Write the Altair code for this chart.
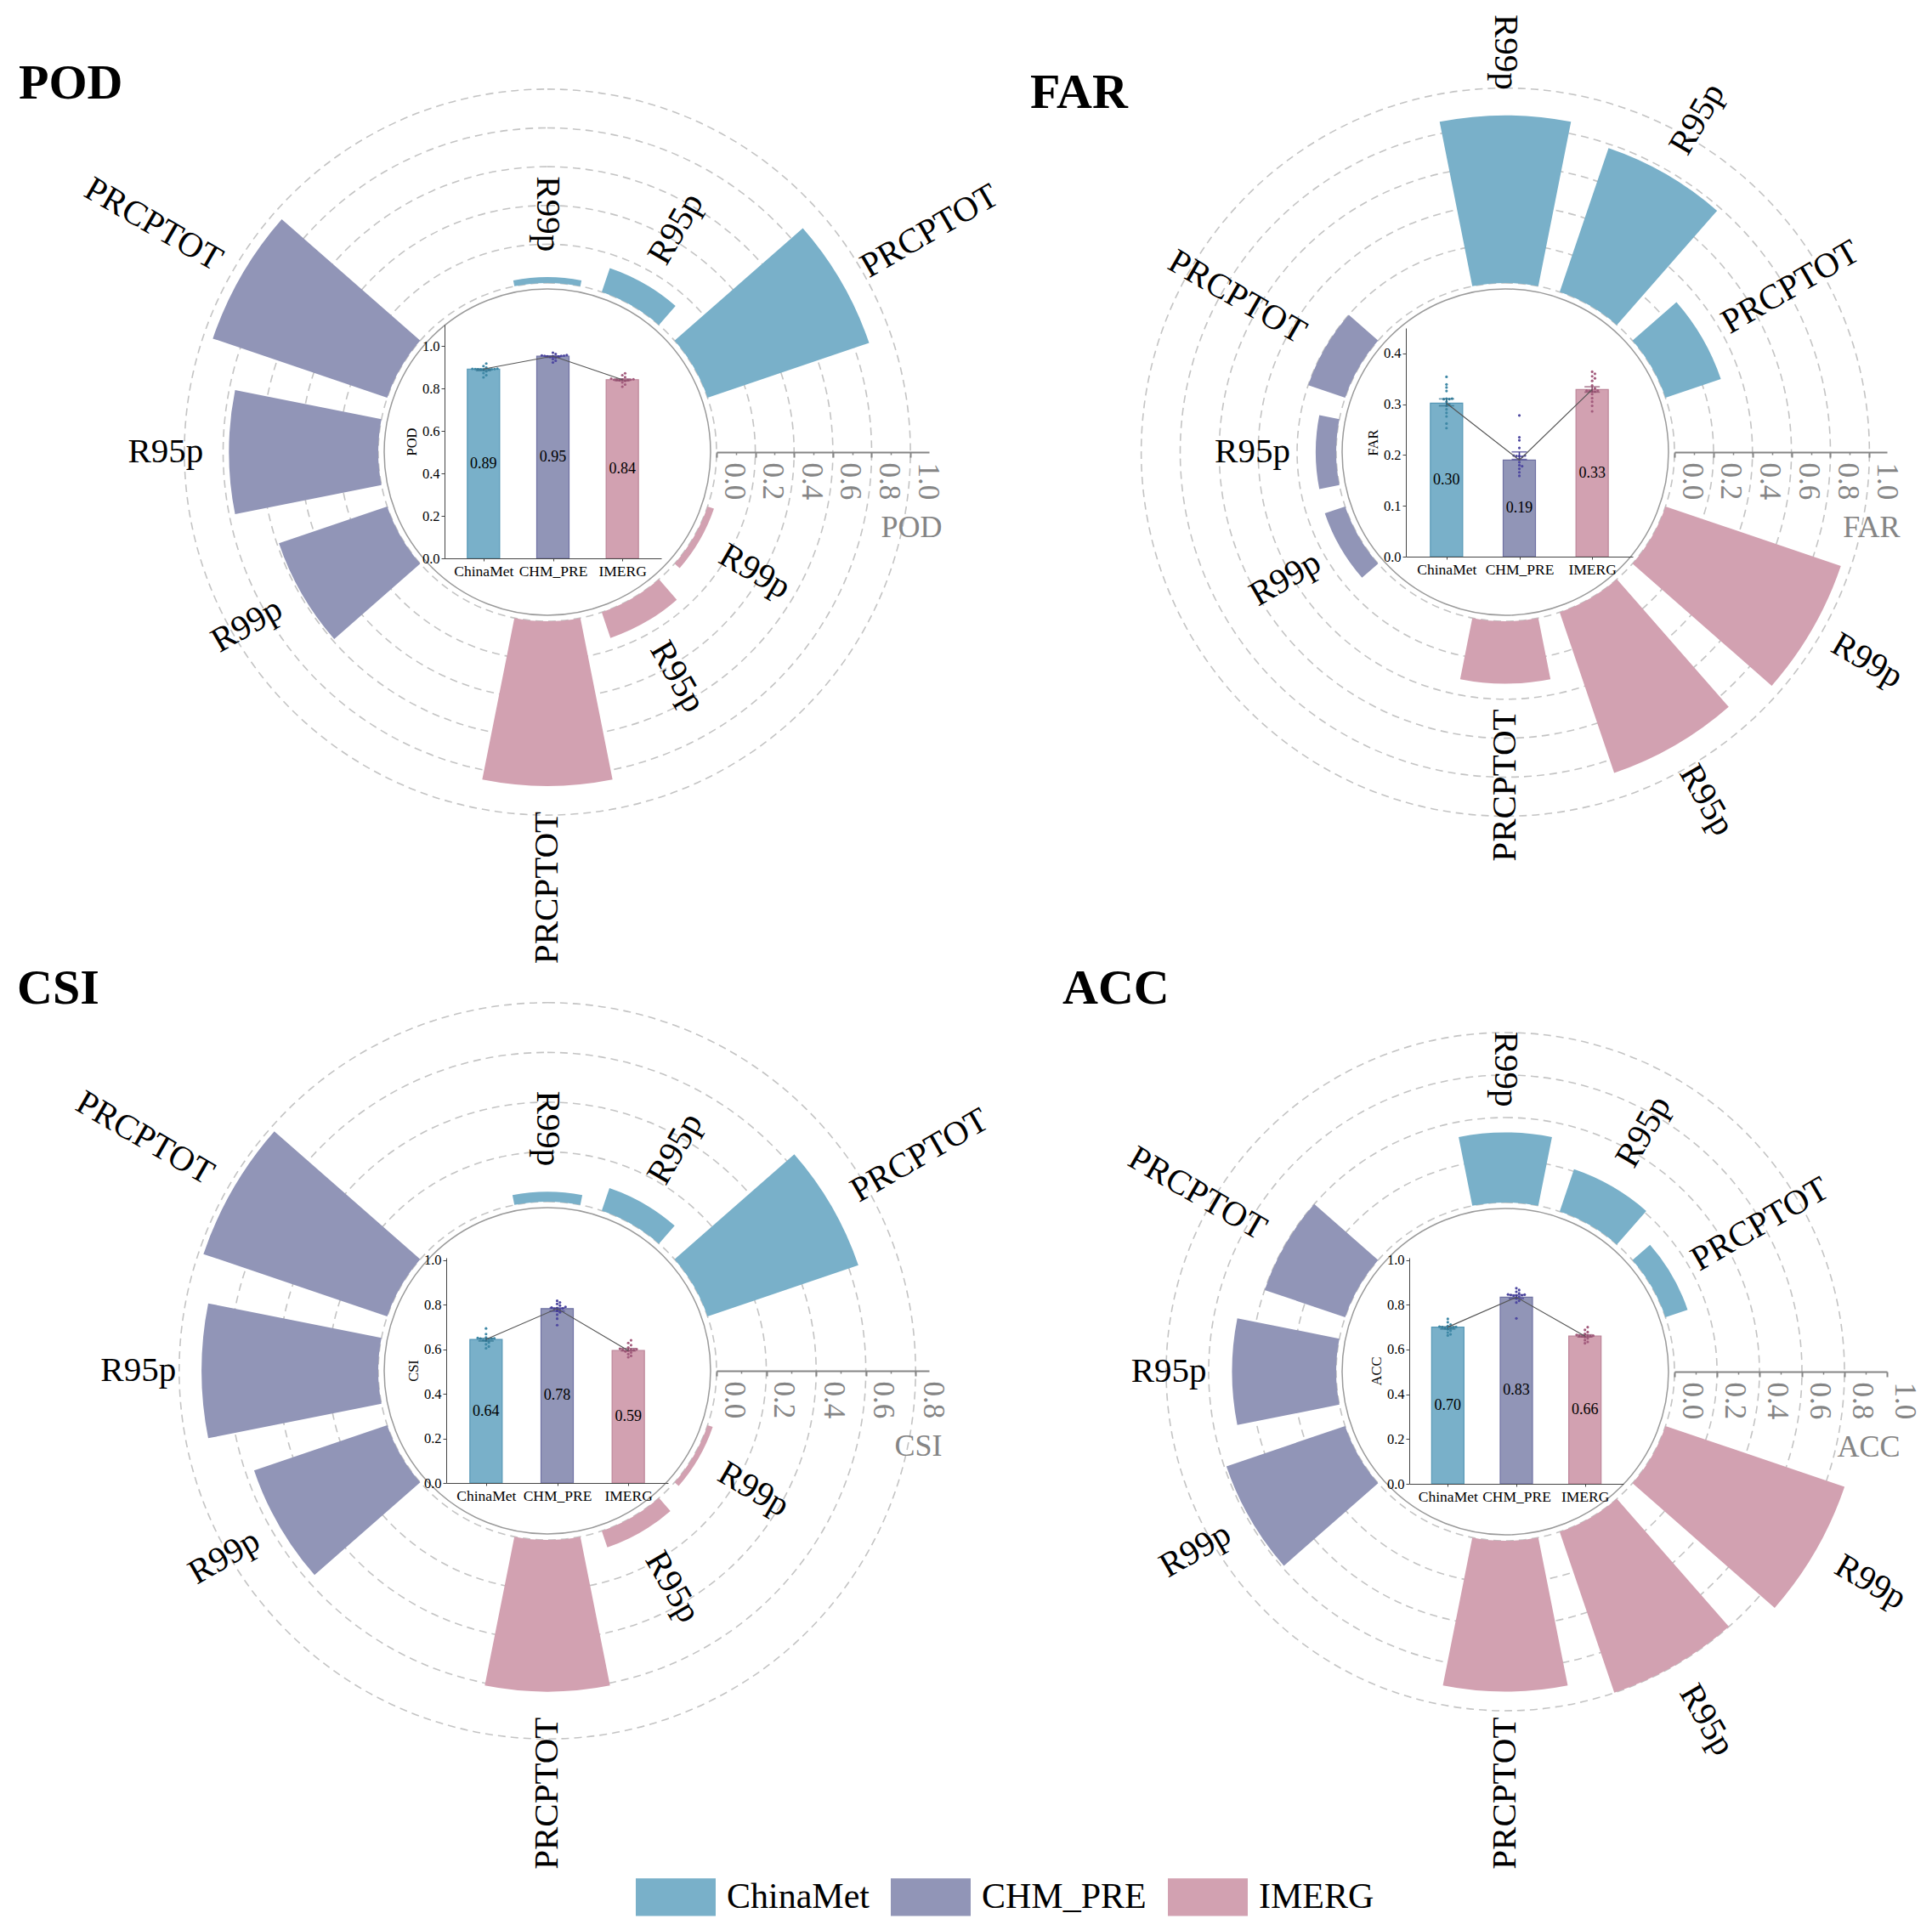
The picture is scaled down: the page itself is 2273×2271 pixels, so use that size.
import math
import pandas as pd
import altair as alt

# ---------------- data ----------------
names = ["ChinaMet", "CHM_PRE", "IMERG"]
indices = ["PRCPTOT", "R95p", "R99p"]
metrics = ["POD", "FAR", "CSI", "ACC"]

# radial bars: ChinaMet(PRCPTOT,R95p,R99p), CHM_PRE(...), IMERG(...)
pod_radial = [0.88, 0.13, 0.03, 0.95, 0.77, 0.59, 0.85, 0.14, 0.035]
far_radial = [0.30, 0.78, 0.86, 0.20, 0.105, 0.11, 0.32, 0.87, 0.95]
csi_radial = [0.64, 0.096, 0.04, 0.78, 0.71, 0.565, 0.61, 0.07, 0.022]
acc_radial = [0.11, 0.21, 0.33, 0.40, 0.49, 0.59, 0.71, 0.80, 0.89]

# inner bar chart means
pod_mean = [0.891, 0.952, 0.841]
far_mean = [0.302, 0.190, 0.329]
csi_mean = [0.644, 0.782, 0.594]
acc_mean = [0.700, 0.834, 0.660]

# inner strip points
pod_pts_chinamet = [0.917, 0.905, 0.898, 0.893, 0.892, 0.891, 0.891, 0.890, 0.890, 0.889, 0.889, 0.888, 0.880, 0.872, 0.862, 0.852]
pod_pts_chm = [0.968, 0.962, 0.957, 0.955, 0.954, 0.953, 0.953, 0.952, 0.951, 0.950, 0.948, 0.944, 0.938, 0.930, 0.922]
pod_pts_imerg = [0.871, 0.862, 0.853, 0.846, 0.843, 0.842, 0.841, 0.841, 0.840, 0.839, 0.838, 0.835, 0.828, 0.818, 0.808]

far_pts_chinamet = [0.354, 0.339, 0.333, 0.326, 0.311, 0.311, 0.310, 0.310, 0.305, 0.300, 0.297, 0.290, 0.283, 0.276, 0.262, 0.253]
far_pts_chm = [0.278, 0.235, 0.229, 0.214, 0.199, 0.199, 0.198, 0.198, 0.197, 0.192, 0.186, 0.180, 0.178, 0.173, 0.166, 0.159]
far_pts_imerg = [0.364, 0.360, 0.355, 0.351, 0.346, 0.337, 0.331, 0.327, 0.327, 0.326, 0.326, 0.325, 0.320, 0.312, 0.305, 0.297, 0.286]

csi_pts_chinamet = [0.693, 0.668, 0.652, 0.650, 0.649, 0.648, 0.647, 0.645, 0.641, 0.638, 0.630, 0.622, 0.612, 0.604]
csi_pts_chm = [0.817, 0.810, 0.803, 0.796, 0.790, 0.787, 0.785, 0.783, 0.781, 0.778, 0.772, 0.765, 0.755, 0.737, 0.708]
csi_pts_imerg = [0.640, 0.628, 0.618, 0.608, 0.602, 0.600, 0.598, 0.597, 0.596, 0.594, 0.590, 0.585, 0.578, 0.570, 0.564]

acc_pts_chinamet = [0.737, 0.722, 0.712, 0.705, 0.702, 0.701, 0.700, 0.699, 0.697, 0.695, 0.690, 0.684, 0.676, 0.668, 0.663]
acc_pts_chm = [0.874, 0.866, 0.858, 0.851, 0.846, 0.845, 0.844, 0.843, 0.842, 0.840, 0.836, 0.828, 0.818, 0.810, 0.739]
acc_pts_imerg = [0.700, 0.688, 0.678, 0.670, 0.665, 0.663, 0.662, 0.661, 0.660, 0.659, 0.656, 0.650, 0.642, 0.634, 0.628]

radial_values = {"POD": pod_radial, "FAR": far_radial, "CSI": csi_radial, "ACC": acc_radial}
mean_values = {"POD": pod_mean, "FAR": far_mean, "CSI": csi_mean, "ACC": acc_mean}
point_values = {
    "POD": [pod_pts_chinamet, pod_pts_chm, pod_pts_imerg],
    "FAR": [far_pts_chinamet, far_pts_chm, far_pts_imerg],
    "CSI": [csi_pts_chinamet, csi_pts_chm, csi_pts_imerg],
    "ACC": [acc_pts_chinamet, acc_pts_chm, acc_pts_imerg],
}

# ---------------- style / layout ----------------
SERIF = "Liberation Serif"
GRAY = "#858585"
bar_colors = ["#79b0c9", "#9195b7", "#d2a1b1"]
edge_colors = ["#5597b6", "#6f71a3", "#bd8599"]
dot_colors = ["#3f88a6", "#4e48a0", "#a35c7d"]
err_colors = ["#2e6f8a", "#3f3790", "#8a4a68"]

W, H = 2257, 2255
M = 8
R0, R1 = 199, 449
CIRCLE_R = 192
BAR_W = 38

layout = {
    "POD": dict(cx=644, cy=532, rmax=1.096, grid=[0, .2, .4, .6, .8, 1.0], ticks=[0, .2, .4, .6, .8, 1.0],
                minor=[.1, .3, .5, .7, .9], xl=-121, xr=134, y0=125, ytop=-150, ymax=1.1,
                yticks=[0, .2, .4, .6, .8, 1.0], tx=22, ty=116),
    "FAR": dict(cx=1771, cy=532, rmax=1.09, grid=[0, .2, .4, .6, .8, 1.0], ticks=[0, .2, .4, .6, .8, 1.0],
                minor=[.1, .3, .5, .7, .9], xl=-117, xr=150, y0=123, ytop=-146, ymax=0.45,
                yticks=[0, .1, .2, .3, .4], tx=1212, ty=127),
    "CSI": dict(cx=644, cy=1613, rmax=0.854, grid=[0, .2, .4, .6, .8], ticks=[0, .2, .4, .6, .8],
                minor=[.1, .3, .5, .7], xl=-119, xr=142, y0=132, ytop=-133, ymax=1.01,
                yticks=[0, .2, .4, .6, .8, 1.0], tx=20, ty=1181),
    "ACC": dict(cx=1771, cy=1614, rmax=1.0, grid=[0, .2, .4, .6, .8], ticks=[0, .2, .4, .6, .8, 1.0],
                minor=[.1, .3, .5, .7, .9], xl=-113, xr=139, y0=132, ytop=-134, ymax=1.01,
                yticks=[0, .2, .4, .6, .8, 1.0], tx=1250, ty=1181),
}

theta_scale = alt.Scale(domain=[0, 360], range=[0, 2 * math.pi], nice=False, zero=False)
radius_scale = alt.Scale(type="linear", domain=[0, 1], range=[R0, R1], nice=False, zero=False)

legend = alt.Legend(
    orient="none", legendX=740, legendY=2177, direction="horizontal", title=None,
    symbolType="M-1,-0.47L1,-0.47L1,0.47L-1,0.47Z", symbolSize=8836, symbolStrokeWidth=0,
    symbolOpacity=1, labelFont=SERIF, labelFontSize=42, labelColor="black", labelOffset=13,
    labelLimit=600, columnPadding=25, padding=0,
)
COLOR = alt.Color("ds:N", scale=alt.Scale(domain=names, range=bar_colors), legend=legend)
LABEL_EXPR = "[" + ",".join("'%s'" % n for n in names) + "][datum.value]"


def swarm(vals, ppu, d=3.4):
    order = sorted(range(len(vals)), key=lambda i: vals[i])
    placed, offs = [], [0.0] * len(vals)
    cands = [0.0] + [s * j * d for j in range(1, 25) for s in (1, -1)]
    for i in order:
        y = vals[i] * ppu
        for c in cands:
            if all((c - px) ** 2 + (y - py) ** 2 >= d * d for px, py in placed):
                break
        placed.append((c, y))
        offs[i] = c
    return offs


def rad(field):
    return alt.Radius(field, type="quantitative", scale=radius_scale, stack=None)


def panel(metric):
    L = layout[metric]
    cxv, cyv = L["cx"] - M, L["cy"] - M

    # --- radial bars table
    rows = []
    for d, ds in enumerate(names):
        for i, ix in enumerate(indices):
            v = radial_values[metric][3 * d + i]
            mpl = 30 + 120 * d + 30 * i
            th = 90 - mpl
            side = "L" if 90 <= mpl <= 270 else "R"
            tang = (180 - mpl) % 360 if side == "L" else (360 - mpl) % 360
            rows.append(dict(ds=ds, ix=ix, v=v, rn=v / L["rmax"], th=th, th1=th - 11.25,
                             th2=th + 11.25, side=side, tang=tang))
    rdf = pd.DataFrame(rows)
    gdf = pd.DataFrame({"g": L["grid"]})
    gdf["rn"] = gdf["g"] / L["rmax"]

    grid = alt.Chart(gdf).mark_arc(
        x=cxv, y=cyv, fill="transparent", stroke="#c4c4c4", strokeWidth=1.6, strokeDash=[9, 6]
    ).encode(
        theta=alt.Theta(datum=0, scale=theta_scale, stack=None),
        theta2=alt.Theta2(datum=360),
        radius=rad("rn"),
        radius2=alt.value(0),
    )

    circle = alt.Chart(pd.DataFrame({"c": [1]})).mark_arc(
        x=cxv, y=cyv, fill="transparent", stroke="#9a9a9a", strokeWidth=1.5
    ).encode(
        theta=alt.Theta(datum=0, scale=theta_scale, stack=None),
        theta2=alt.Theta2(datum=360),
        radius=alt.value(CIRCLE_R),
        radius2=alt.value(0),
    )

    bars = alt.Chart(rdf).mark_arc(x=cxv, y=cyv).encode(
        theta=alt.Theta("th1:Q", scale=theta_scale, stack=None),
        theta2=alt.Theta2("th2"),
        radius=rad("rn"),
        radius2=alt.datum(0),
        color=COLOR,
    )

    def lab(side, align):
        return alt.Chart(rdf[rdf.side == side]).mark_text(
            x=cxv, y=cyv, align=align, baseline="middle", radiusOffset=30,
            font=SERIF, fontSize=41, color="black"
        ).encode(
            theta=alt.Theta("th:Q", scale=theta_scale, stack=None),
            radius=rad("rn"),
            angle=alt.Angle("tang:Q", scale=None),
            text="ix:N",
        )

    # --- radial axis
    rscale = alt.Scale(domain=[0, L["rmax"]], range=[cxv + R0, cxv + R1], nice=False, zero=False)
    major = alt.Chart(pd.DataFrame({"t": L["ticks"]})).mark_point(opacity=0).encode(
        x=alt.X("t:Q", scale=rscale, axis=alt.Axis(
            orient="bottom", offset=cyv - H, values=L["ticks"], format=".1f",
            labelAngle=90, labelAlign="left", labelBaseline="middle", labelPadding=6,
            labelOffset=20, labelFont=SERIF, labelFontSize=35, labelColor=GRAY,
            labelFlush=False, labelOverlap=False,
            domainColor=GRAY, domainWidth=2, tickColor=GRAY, tickWidth=2, tickSize=6,
            grid=False, title=metric, titleFont=SERIF, titleFontSize=36, titleFontWeight="normal",
            titleColor=GRAY, titleX=cxv + R1 + 15, titleY=88, titleAlign="right",
            titleBaseline="middle", titleAngle=0, zindex=2,
        ))
    )
    minor = alt.Chart(pd.DataFrame({"t": L["minor"]})).mark_point(opacity=0).encode(
        x=alt.X("t:Q", scale=rscale, axis=alt.Axis(
            orient="bottom", offset=cyv - H, values=L["minor"], labels=False, domain=False,
            tickColor=GRAY, tickWidth=1.5, tickSize=3, grid=False, title=None, zindex=2,
        ))
    )

    # --- inner bar chart (x: dataset position 0,1,2)
    step = (L["xr"] - L["xl"]) / 3.0
    xs = alt.Scale(domain=[-0.5, 2.5], range=[cxv + L["xl"], cxv + L["xr"]], nice=False, zero=False)
    ys = alt.Scale(domain=[0, L["ymax"]], range=[cyv + L["y0"], cyv + L["ytop"]], nice=False, zero=False)
    AX = alt.Axis(orient="bottom", offset=(cyv + L["y0"]) - H, values=[0, 1, 2], labelExpr=LABEL_EXPR,
                  labelAngle=0, labelFont=SERIF, labelFontSize=17.5, labelColor="black",
                  labelFlush=False, labelOverlap=False,
                  domainColor="#444444", tickColor="#444444", tickSize=3, labelPadding=3,
                  title=None, grid=False, zindex=1)
    AY = alt.Axis(orient="left", offset=-(cxv + L["xl"]), values=L["yticks"], format=".1f",
                  labelFont=SERIF, labelFontSize=16.5, labelColor="black", domainColor="#444444",
                  labelFlush=False, labelOverlap=False,
                  tickColor="#444444", tickSize=4, labelPadding=2, grid=False, title=metric,
                  titleFont=SERIF, titleFontSize=16.5, titleFontWeight="normal", titleColor="black",
                  titlePadding=4, zindex=1)

    mdf = pd.DataFrame({"ds": names, "m": mean_values[metric], "xi": [0, 1, 2]})
    mdf["h"] = mdf["m"] / 2

    ppu = (L["y0"] - L["ytop"]) / L["ymax"]
    prow = []
    for d, ds in enumerate(names):
        vals = point_values[metric][d]
        offs = swarm(vals, ppu)
        for v, o in zip(vals, offs):
            prow.append(dict(ds=ds, v=v, xi=d, xp=d + o / step))
    pdf = pd.DataFrame(prow)

    ibars = alt.Chart(mdf).mark_bar(width=BAR_W, orient="vertical", strokeWidth=1.2).encode(
        x=alt.X("xi:Q", scale=xs, axis=AX), y=alt.Y("m:Q", scale=ys, axis=AY), color=COLOR,
        stroke=alt.Stroke("ds:N", scale=alt.Scale(domain=names, range=edge_colors), legend=None),
    )
    pts = alt.Chart(pdf).mark_circle(size=10, opacity=1).encode(
        x=alt.X("xp:Q", scale=xs, axis=AX),
        y=alt.Y("v:Q", scale=ys, axis=AY),
        fill=alt.Fill("ds:N", scale=alt.Scale(domain=names, range=dot_colors), legend=None),
    )
    errs = [
        alt.Chart(pdf[pdf.ds == ds]).mark_errorbar(
            extent="stderr", orient="vertical", color=err_colors[d], thickness=1.6,
            ticks={"size": 18, "color": err_colors[d]},
        ).encode(x=alt.X("xi:Q", scale=xs, axis=AX), y=alt.Y("v:Q", scale=ys, axis=AY))
        for d, ds in enumerate(names)
    ]
    line = alt.Chart(mdf).mark_line(color="#555555", strokeWidth=1.2).encode(
        x=alt.X("xi:Q", scale=xs, axis=AX), y=alt.Y("m:Q", scale=ys, axis=AY), order="xi:Q"
    )
    vtxt = alt.Chart(mdf).mark_text(font=SERIF, fontSize=18, color="black").encode(
        x=alt.X("xi:Q", scale=xs, axis=AX), y=alt.Y("h:Q", scale=ys, axis=AY),
        text=alt.Text("m:Q", format=".2f")
    )
    inner = alt.layer(ibars, pts, *errs, line, vtxt)

    title = alt.Chart(pd.DataFrame({"t": [metric]})).mark_text(
        x=L["tx"] - M, y=L["ty"] - M, align="left", baseline="alphabetic",
        font=SERIF, fontSize=58, fontWeight="bold", color="black"
    ).encode(text="t:N")

    return alt.layer(grid, circle, bars, lab("R", "left"), lab("L", "right"),
                     major, minor, inner, title).resolve_scale(x="independent", y="independent")


chart = alt.layer(*[panel(m) for m in metrics]).resolve_scale(
    x="independent", y="independent"
).properties(
    width=W, height=H, autosize=alt.AutoSizeParams(type="none"), padding=0,
    background="white",
).configure_view(strokeWidth=0)

chart.save("out.html", embed_options={"renderer": "svg", "actions": False})
